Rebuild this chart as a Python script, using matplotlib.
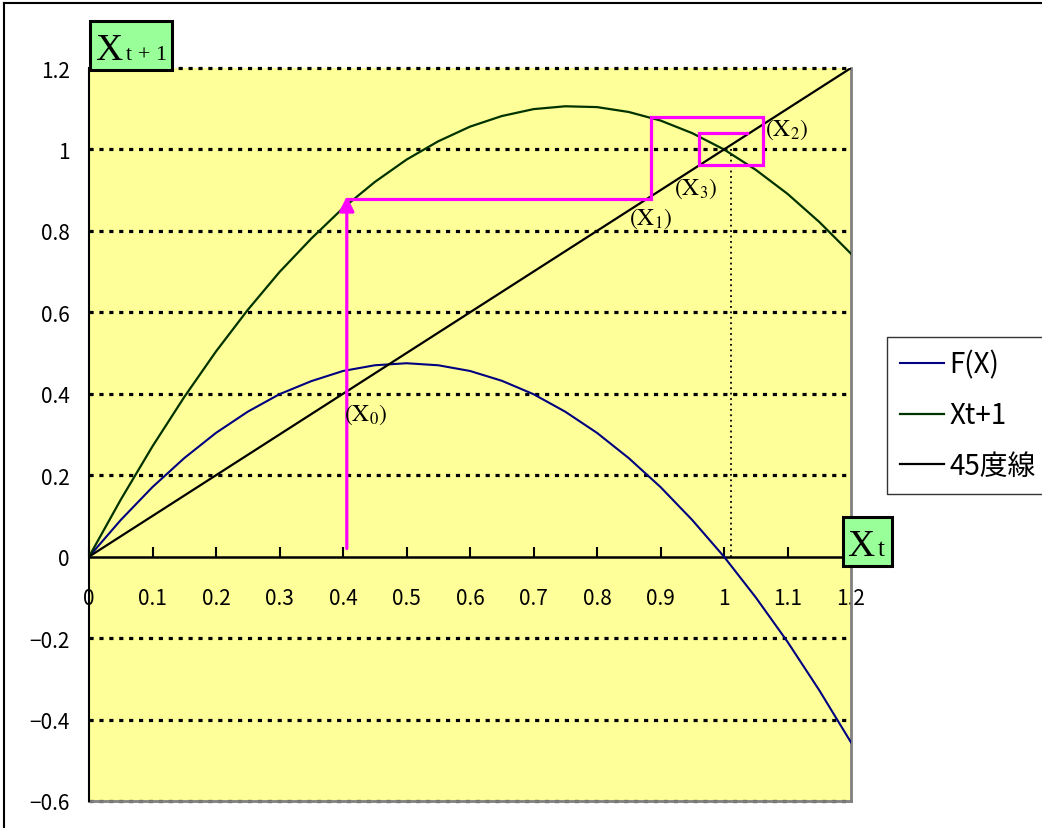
import matplotlib
import matplotlib.pyplot as plt
from matplotlib.lines import Line2D
from matplotlib.patches import Rectangle

matplotlib.use("Agg")
plt.rcParams["font.family"] = ["Liberation Sans Narrow", "Noto Sans CJK JP", "DejaVu Sans"]
plt.rcParams["mathtext.fontset"] = "stix"

W, H = 1042, 829

# values
x_vals = [0.0, 0.05, 0.1, 0.15, 0.2, 0.25, 0.3, 0.35, 0.4, 0.45, 0.5, 0.55, 0.6,
          0.65, 0.7, 0.75, 0.8, 0.85, 0.9, 0.95, 1.0, 1.05, 1.1, 1.15, 1.2]
f_vals = [0.0, 0.090, 0.171, 0.242, 0.304, 0.356, 0.399, 0.431, 0.456, 0.470, 0.475, 0.470, 0.456,
          0.432, 0.399, 0.356, 0.304, 0.242, 0.171, 0.090, 0.0, -0.100, -0.209, -0.328, -0.456]
next_vals = [0.0, 0.140, 0.271, 0.392, 0.504, 0.606, 0.699, 0.781, 0.856, 0.920, 0.975, 1.020, 1.056,
             1.082, 1.099, 1.106, 1.104, 1.092, 1.071, 1.040, 1.0, 0.950, 0.891, 0.822, 0.744]
line45_vals = list(x_vals)

x0 = 0.406
cob_x = [0.406, 0.885, 0.885, 1.061, 1.061, 0.961, 0.961, 1.036]
cob_y = [0.879, 0.879, 1.080, 1.080, 0.962, 0.962, 1.040, 1.040]
fixed_x = 1.011

point_labels = [r"$(\mathrm{X}_0)$", r"$(\mathrm{X}_1)$", r"$(\mathrm{X}_2)$", r"$(\mathrm{X}_3)$"]
label_xy = [(0.401, 0.352), (0.850, 0.833), (1.064, 1.052), (0.922, 0.905)]

y_ticks = [-0.6, -0.4, -0.2, 0, 0.2, 0.4, 0.6, 0.8, 1, 1.2]
x_ticks = [0, 0.1, 0.2, 0.3, 0.4, 0.5, 0.6, 0.7, 0.8, 0.9, 1, 1.1, 1.2]


def fx(px):
    return px / W


def fy(py):
    return 1 - py / H


fig = plt.figure(figsize=(W / 100, H / 100), dpi=100)
ax = fig.add_axes([fx(89), fy(802), fx(851) - fx(89), fy(69) - fy(802)])
ax.set_facecolor("#FFFF99")
ax.set_xlim(0, 1.2)
ax.set_ylim(-0.6, 1.2)

for yv in y_ticks:
    if yv != 0:
        ax.axhline(yv, color="black", lw=2.3, ls=(0, (1.3, 1.8)), zorder=1, clip_on=False)

ax.plot(x_vals, f_vals, color="#000080", lw=1.5, label="F(X)", zorder=3)
ax.plot(x_vals, next_vals, color="#003300", lw=1.6, label="Xt+1", zorder=3)
ax.plot(x_vals, line45_vals, color="black", lw=1.6, label="45度線", zorder=3)

ax.plot([fixed_x, fixed_x], [0, 1.0], color="black", lw=1.3, ls=(0, (1, 2)), zorder=2)

ax.plot(cob_x, cob_y, color="#FF00FF", lw=2.3, zorder=4, solid_joinstyle="miter")
ax.annotate("", xy=(x0, 0.885), xytext=(x0, 0.02),
            arrowprops=dict(arrowstyle="-|>", color="#FF00FF", lw=2.3, mutation_scale=22,
                            shrinkA=0, shrinkB=0), zorder=4)

for text, (lx, ly) in zip(point_labels, label_xy):
    ax.text(lx, ly, text, fontsize=17, ha="left", va="center", zorder=5)

ax.spines["top"].set_visible(False)
ax.spines["right"].set_color("#808080")
ax.spines["right"].set_linewidth(2)
ax.spines["left"].set_color("black")
ax.spines["left"].set_linewidth(1.5)
ax.spines["bottom"].set_position(("data", 0))
ax.spines["bottom"].set_color("black")
ax.spines["bottom"].set_linewidth(1.8)
ax.axhline(-0.6, color="#808080", lw=2, zorder=2, clip_on=False)

ax.set_xticks(x_ticks)
ax.set_xticklabels(["0", "0.1", "0.2", "0.3", "0.4", "0.5", "0.6", "0.7", "0.8", "0.9", "1", "1.1", "1.2"])
ax.set_yticks(y_ticks)
ax.set_yticklabels(["\u22120.6", "\u22120.4", "\u22120.2", "0", "0.2", "0.4", "0.6", "0.8", "1", "1.2"])
ax.tick_params(axis="x", direction="in", length=7, width=1.5, pad=22, labelsize=15)
ax.tick_params(axis="y", length=0, pad=14, labelsize=15)

leg = ax.legend(loc="upper left", bbox_to_anchor=(fx(887), fy(338)), bbox_transform=fig.transFigure,
                fontsize=20, frameon=True, fancybox=False, edgecolor="black", handlelength=1.6,
                handletextpad=0.2, labelspacing=0.75, borderpad=0.45, borderaxespad=0)
leg.get_frame().set_linewidth(1.0)

# axis title boxes
fig.add_artist(Rectangle((fx(90), fy(71)), fx(172) - fx(90), fy(22) - fy(71), transform=fig.transFigure,
                         facecolor="#99FF99", edgecolor="black", lw=2.2, zorder=10))
fig.text(fx(95), fy(60), "X", fontsize=27, family="Liberation Serif", va="baseline", zorder=11)
fig.text(fx(126), fy(60), "t + 1", fontsize=16, family="Liberation Serif", va="baseline", zorder=11)

fig.add_artist(Rectangle((fx(843), fy(567)), fx(892) - fx(843), fy(518) - fy(567), transform=fig.transFigure,
                         facecolor="#99FF99", edgecolor="black", lw=2.2, zorder=10))
fig.text(fx(847), fy(556), "X", fontsize=27, family="Liberation Serif", va="baseline", zorder=11)
fig.text(fx(878), fy(556), "t", fontsize=18, family="Liberation Serif", va="baseline", zorder=11)

# outer border
fig.add_artist(Line2D([fx(4), fx(4)], [0, fy(4)], transform=fig.transFigure, color="black", lw=1.5))
fig.add_artist(Line2D([fx(4), 1], [fy(4), fy(4)], transform=fig.transFigure, color="black", lw=1.5))

fig.savefig("out.png", dpi=100)
